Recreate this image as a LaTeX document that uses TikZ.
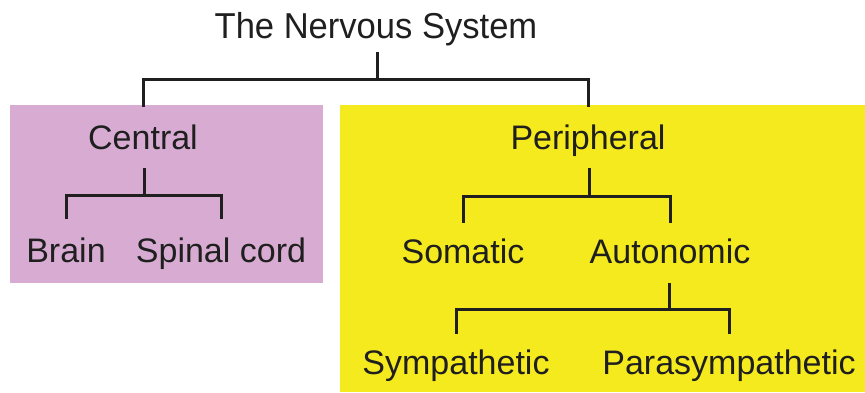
\documentclass[tikz,border=0pt]{standalone}
\usepackage{fontspec}
\setmainfont{Liberation Sans}
\begin{document}
\begin{tikzpicture}[x=1pt,y=-1pt,
  lbl/.style={inner sep=0pt, anchor=base, text=black!88,
    font=\fontsize{34}{40}\selectfont},
  conn/.style={draw=black!88, line width=3pt, line cap=rect},
  region/.style={draw=none, inner sep=0pt, anchor=north west}]
\useasboundingbox (0,0) rectangle (865,392);
\fill[white] (0,0) rectangle (865,392);

% division backgrounds
\node[region, fill={rgb,255:red,216;green,172;blue,210},
      minimum width=313pt, minimum height=178pt] (cbox) at (10,105) {};
\node[region, fill={rgb,255:red,245;green,234;blue,30},
      minimum width=525pt, minimum height=287pt] (pbox) at (340,105) {};

% labels
\node[lbl, font=\fontsize{36}{42}\selectfont] (ns) at (376,38)
  {\scalebox{0.96}[1]{The Nervous System}};
\node[lbl] (cns)  at (143,149) {Central};
\node[lbl] (pns)  at (588,149) {Peripheral};
\node[lbl] (br)   at (66,262)  {Brain};
\node[lbl] (sc)   at (221,262) {Spinal cord};
\node[lbl] (som)  at (463,263) {Somatic};
\node[lbl] (aut)  at (670,263) {Autonomic};
\node[lbl] (sym)  at (456,374) {Sympathetic};
\node[lbl] (para) at (729,374) {Parasympathetic};

% brackets
\coordinate (nsj) at (377,79);
\draw[conn] (nsj |- 0,53) -- (nsj) -| (cns |- cbox.north);
\draw[conn] (nsj) -| (pns |- pbox.north);

\coordinate (cj) at (144,195);
\draw[conn] (cj |- 0,169) -- (cj) -| (br |- 0,217);
\draw[conn] (cj) -| (sc |- 0,217);

\coordinate (pj) at (589,196);
\draw[conn] (pj |- 0,169) -- (pj) -| (som |- 0,221);
\draw[conn] (pj) -| (aut |- 0,221);

\coordinate (aj) at (669,309);
\draw[conn] (aj |- 0,284) -- (aj) -| (sym |- 0,332);
\draw[conn] (aj) -| (para |- 0,332);
\end{tikzpicture}
\end{document}
